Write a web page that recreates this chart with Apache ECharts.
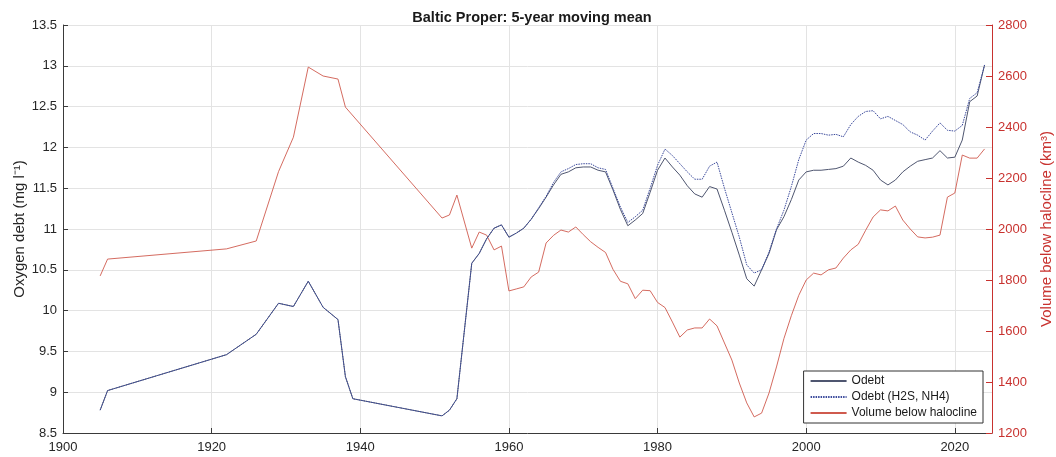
<!DOCTYPE html>
<html>
<head>
<meta charset="utf-8">
<script src="https://cdn.jsdelivr.net/npm/echarts@6/dist/echarts.min.js"></script>
<style>
html,body{margin:0;padding:0;background:#fff;}
#chart{width:1056px;height:457px;}
</style>
</head>
<body>
<div id="chart"></div>
<script>
const titleText = 'Baltic Proper: 5-year moving mean';
const years = [1905,1906,1922,1926,1929,1931,1933,1935,1937,1938,1939,1951,1952,1953,
  1955,1956,1957,1958,1959,1960,1961,1962,1963,1964,
  1965,1966,1967,1968,1969,1970,1971,1972,1973,1974,
  1975,1976,1977,1978,1979,1980,1981,1982,1983,1984,
  1985,1986,1987,1988,1989,1990,1991,1992,1993,1994,
  1995,1996,1997,1998,1999,2000,2001,2002,2003,2004,
  2005,2006,2007,2008,2009,2010,2011,2012,2013,2014,
  2015,2016,2017,2018,2019,2020,2021,2022,2023,2024];
const odebt = [8.78,9.02,9.46,9.71,10.09,10.05,10.36,10.04,9.89,9.19,8.92,8.71,8.78,8.92,
  10.58,10.7,10.88,11.01,11.05,10.9,10.95,11.01,11.12,11.25,
  11.39,11.54,11.67,11.7,11.75,11.76,11.76,11.72,11.7,11.48,
  11.24,11.04,11.11,11.19,11.45,11.72,11.87,11.76,11.66,11.53,
  11.43,11.39,11.52,11.49,11.23,10.96,10.68,10.39,10.3,10.5,
  10.7,10.99,11.15,11.36,11.6,11.7,11.72,11.72,11.73,11.74,
  11.77,11.87,11.82,11.78,11.72,11.6,11.54,11.6,11.7,11.77,
  11.83,11.85,11.87,11.96,11.87,11.88,12.09,12.56,12.63,13.01];
const odebtH2S = [8.78,9.02,9.46,9.71,10.09,10.05,10.36,10.04,9.89,9.19,8.92,8.71,8.78,8.92,
  10.58,10.7,10.88,11.01,11.05,10.9,10.95,11.01,11.12,11.26,
  11.4,11.57,11.7,11.74,11.79,11.8,11.8,11.75,11.73,11.5,
  11.27,11.08,11.15,11.23,11.5,11.78,11.98,11.9,11.8,11.7,
  11.61,11.61,11.77,11.82,11.5,11.2,10.9,10.56,10.46,10.5,
  10.72,11.0,11.23,11.52,11.85,12.09,12.17,12.17,12.15,12.16,
  12.13,12.28,12.38,12.44,12.45,12.35,12.38,12.33,12.28,12.19,
  12.15,12.09,12.2,12.3,12.21,12.2,12.27,12.6,12.67,13.01];
const volume = [1816,1882,1922,1953,2225,2360,2635,2600,2588,2478,null,2043,2055,2133,
  1925,1988,1976,1918,1933,1757,1765,1773,1812,1831,
  1945,1975,1996,1988,2008,1978,1950,1928,1908,1842,
  1795,1785,1727,1760,1758,1712,1692,1635,1576,1604,
  1612,1612,1647,1620,1553,1486,1396,1318,1263,1278,
  1357,1459,1570,1660,1740,1800,1827,1820,1840,1847,
  1886,1918,1940,1995,2047,2075,2071,2090,2035,2000,
  1969,1965,1968,1976,2125,2141,2290,2278,2278,2314];
const seriesNames = ['Odebt','Odebt (H2S, NH4)','Volume below halocline'];

const pairs = (vals) => years.map((y, i) => [y, vals[i]]);
const red = '#c8322f';
const axisGray = '#3a3a3a';
const font = 'Liberation Sans, Arial, sans-serif';
const plain = (v) => String(v);

const chart = echarts.init(document.getElementById('chart'));
chart.setOption({
  animation: false,
  backgroundColor: '#fff',
  textStyle: { fontFamily: font },
  title: {
    text: titleText, left: 527, top: 5, textAlign: 'center',
    textStyle: { fontSize: 14.5, fontWeight: 'bold', color: '#1a1a1a', fontFamily: font }
  },
  grid: { left: 63, right: 64, top: 25, bottom: 24, outerBoundsMode: 'none', containLabel: false },
  legend: {
    orient: 'vertical', right: 73, bottom: 34,
    data: seriesNames,
    itemWidth: 36, itemHeight: 10, itemGap: 4,
    padding: [4, 6, 4, 6],
    backgroundColor: '#fff', borderColor: '#333', borderWidth: 1,
    itemStyle: { opacity: 0 },
    textStyle: { fontSize: 12, color: '#1a1a1a', fontFamily: font }
  },
  xAxis: {
    type: 'value', min: 1900, max: 2025, interval: 20,
    axisLine: { onZero: false, lineStyle: { color: axisGray, width: 1 } },
    axisTick: { inside: true, length: 5, lineStyle: { color: axisGray } },
    axisLabel: { fontSize: 13, color: '#262626', margin: 8, showMaxLabel: false, fontFamily: font, formatter: plain },
    splitLine: { show: true, lineStyle: { color: '#e3e3e3', width: 1 } }
  },
  yAxis: [
    {
      type: 'value', min: 8.5, max: 13.5, interval: 0.5, position: 'left',
      name: 'Oxygen debt (mg l\u207B\u00B9)', nameLocation: 'middle', nameGap: 36, nameRotate: 90,
      nameMoveOverlap: false,
      nameTextStyle: { fontSize: 15, color: '#262626', fontFamily: font },
      axisLine: { show: true, lineStyle: { color: axisGray, width: 1 } },
      axisTick: { show: true, inside: true, length: 5, lineStyle: { color: axisGray } },
      axisLabel: { fontSize: 13, color: '#262626', margin: 6, fontFamily: font, formatter: plain },
      splitLine: { show: true, lineStyle: { color: '#e3e3e3', width: 1 } }
    },
    {
      type: 'value', min: 1200, max: 2800, interval: 200, position: 'right',
      name: 'Volume below halocline (km\u00B3)', nameLocation: 'middle', nameGap: 47, nameRotate: 90,
      nameMoveOverlap: false,
      nameTextStyle: { fontSize: 15, color: red, fontFamily: font },
      axisLine: { show: true, lineStyle: { color: red, width: 1 } },
      axisTick: { show: true, inside: true, length: 6, lineStyle: { color: red } },
      axisLabel: { fontSize: 13, color: red, margin: 6, fontFamily: font, formatter: plain },
      splitLine: { show: false }
    }
  ],
  series: [
    {
      name: seriesNames[0], type: 'line', yAxisIndex: 0, data: pairs(odebt),
      symbol: 'none', connectNulls: true,
      lineStyle: { color: '#4f5670', width: 1 }, itemStyle: { color: '#4f5670' }, z: 3
    },
    {
      name: seriesNames[1], type: 'line', yAxisIndex: 0, data: pairs(odebtH2S),
      symbol: 'none', connectNulls: true,
      lineStyle: { color: '#3b4a9c', width: 1, type: [1.5, 1] }, itemStyle: { color: '#3b4a9c' }, z: 4
    },
    {
      name: seriesNames[2], type: 'line', yAxisIndex: 1, data: pairs(volume),
      symbol: 'none', connectNulls: true,
      lineStyle: { color: '#cf5a4e', width: 0.9 }, itemStyle: { color: '#cf5a4e' }, z: 2
    }
  ]
});
</script>
</body>
</html>
